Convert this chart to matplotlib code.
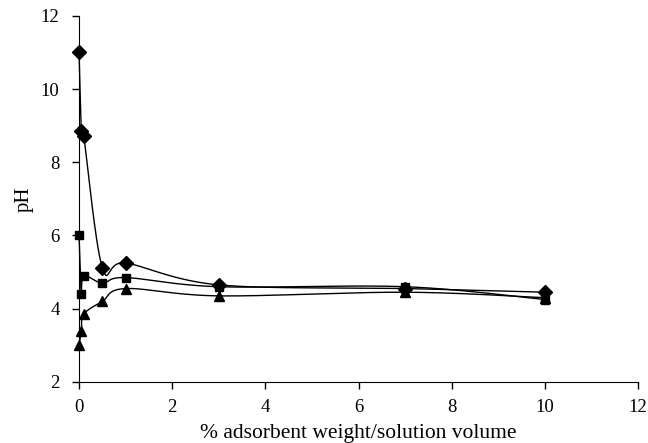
"""
pH vs adsorbent dose
"""
import numpy as np
import matplotlib
matplotlib.use('Agg')
import matplotlib.pyplot as plt

plt.rcParams['font.family'] = ['Liberation Serif', 'DejaVu Serif']

dose = [0, 0.05, 0.1, 0.5, 1, 3, 7, 10]
ph_diamond = [11.02, 8.86, 8.72, 5.12, 5.25, 4.65, 4.55, 4.45]
ph_square = [6.02, 4.4, 4.9, 4.7, 4.85, 4.6, 4.6, 4.25]
ph_triangle = [3.0, 3.4, 3.85, 4.2, 4.55, 4.35, 4.45, 4.3]


def smooth(x, y, sx, sy, n=30):
    # Excel-like smoothed line: Catmull-Rom in screen-scaled coordinates
    p = np.column_stack([np.asarray(x) * sx, np.asarray(y) * sy])
    p = np.vstack([p[0], p, p[-1]])
    out = []
    t = np.linspace(0, 1, n)[:, None]
    for i in range(1, len(p) - 2):
        p0, p1, p2, p3 = p[i - 1], p[i], p[i + 1], p[i + 2]
        c1 = p1 + (p2 - p0) / 6
        c2 = p2 - (p3 - p1) / 6
        seg = ((1 - t) ** 3) * p1 + 3 * ((1 - t) ** 2) * t * c1 + 3 * (1 - t) * t ** 2 * c2 + t ** 3 * p2
        out.append(seg)
    out = np.vstack(out)
    return out[:, 0] / sx, out[:, 1] / sy


fig = plt.figure(figsize=(6.48, 4.43), dpi=100)
ax = fig.add_axes([0.122, 0.138, 0.863, 0.826])

sx, sy = 46.5, 36.6
for ph, mk, ms in [(ph_diamond, 'D', 7), (ph_square, 's', 6), (ph_triangle, '^', 7)]:
    xs, ys = smooth(dose, ph, sx, sy)
    ax.plot(xs, ys, color='black', lw=1.0, clip_on=False)
    ax.plot(dose, ph, linestyle='none', marker=mk, color='black', markersize=ms, clip_on=False, zorder=3)

ax.set_xlim(0, 12)
ax.set_ylim(2, 12)
ax.set_xticks(range(0, 13, 2))
ax.set_yticks(range(2, 13, 2))
ax.spines['top'].set_visible(False)
ax.spines['right'].set_visible(False)
ax.tick_params(direction='out', length=5, width=1, labelsize=13.5)
ax.tick_params(axis='y', pad=9)
ax.tick_params(axis='x', pad=7)
ax.set_xlabel('% adsorbent weight/solution volume', fontsize=15.5, labelpad=6)
ax.set_ylabel('pH', fontsize=15, labelpad=5)

fig.savefig('out.png', dpi=100)
